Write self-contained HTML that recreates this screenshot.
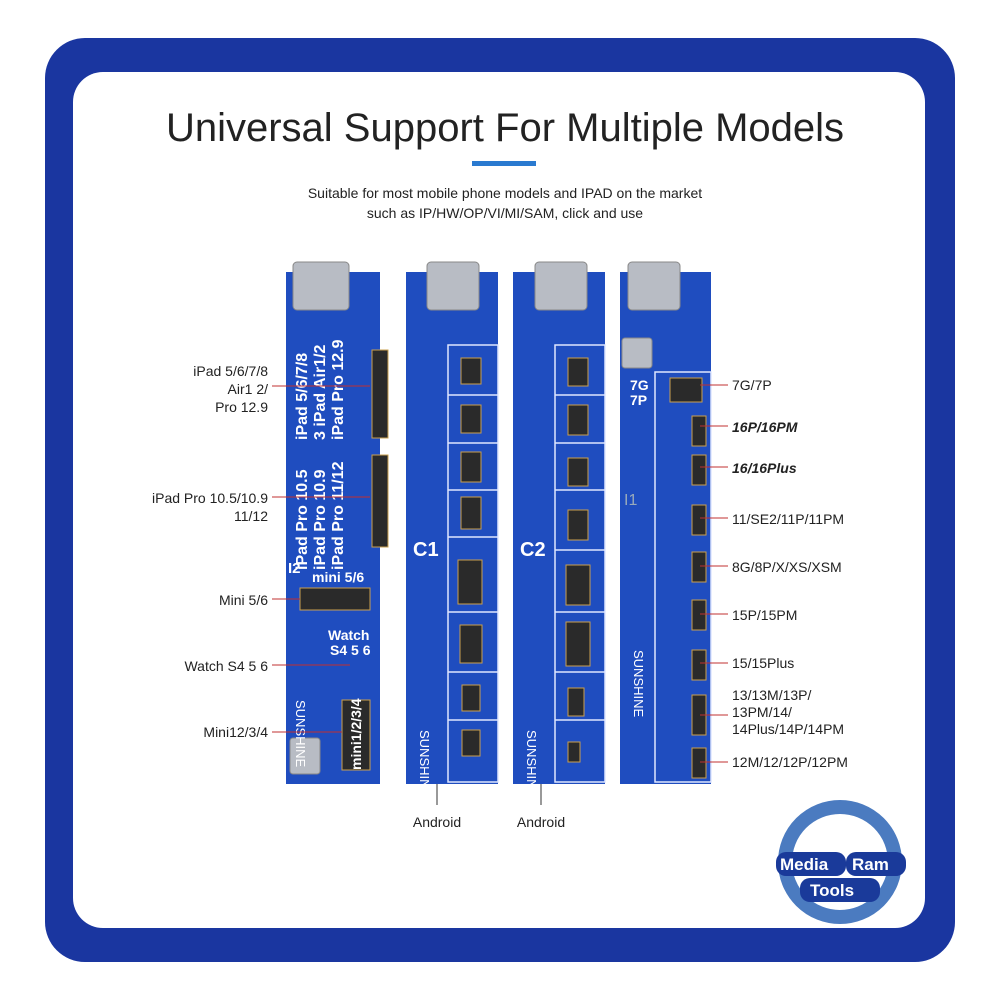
<!DOCTYPE html><html><head><style>body{margin:0;background:#fff}svg{display:block}</style></head><body>
<svg width="1000" height="1000" xmlns="http://www.w3.org/2000/svg" font-family="Liberation Sans, sans-serif">
<rect width="1000" height="1000" fill="#fff"/>
<rect x="45" y="38" width="910" height="924" rx="40" fill="#1a36a0"/>
<rect x="73" y="72" width="852" height="856" rx="30" fill="#fff"/>
<text x="505" y="141" font-size="40" text-anchor="middle" fill="#222">Universal Support For Multiple Models</text>
<rect x="472" y="161" width="64" height="5" fill="#2a7ad0"/>
<text x="505" y="198" font-size="14" text-anchor="middle" fill="#222">Suitable for most mobile phone models and IPAD on the market</text>
<text x="505" y="218" font-size="14" text-anchor="middle" fill="#222">such as IP/HW/OP/VI/MI/SAM, click and use</text>
<g fill="#1f4dbf">
<rect x="286" y="272" width="94" height="512"/>
<rect x="406" y="272" width="92" height="512"/>
<rect x="513" y="272" width="92" height="512"/>
<rect x="620" y="272" width="91" height="512"/>
</g>
<g fill="#b8bcc4" stroke="#888">
<rect x="293" y="262" width="56" height="48" rx="4"/>
<rect x="427" y="262" width="52" height="48" rx="4"/>
<rect x="535" y="262" width="52" height="48" rx="4"/>
<rect x="628" y="262" width="52" height="48" rx="4"/>
<rect x="622" y="338" width="30" height="30" rx="3"/>
<rect x="290" y="738" width="30" height="36" rx="3"/>
</g>
<g fill="none" stroke="#dfe6ff" stroke-width="1.5">
<rect x="448" y="345" width="50" height="437"/>
<line x1="448" y1="395" x2="498" y2="395"/><line x1="448" y1="443" x2="498" y2="443"/><line x1="448" y1="490" x2="498" y2="490"/><line x1="448" y1="537" x2="498" y2="537"/><line x1="448" y1="612" x2="498" y2="612"/><line x1="448" y1="672" x2="498" y2="672"/><line x1="448" y1="720" x2="498" y2="720"/>
<rect x="555" y="345" width="50" height="437"/>
<line x1="555" y1="395" x2="605" y2="395"/><line x1="555" y1="443" x2="605" y2="443"/><line x1="555" y1="490" x2="605" y2="490"/><line x1="555" y1="550" x2="605" y2="550"/><line x1="555" y1="612" x2="605" y2="612"/><line x1="555" y1="672" x2="605" y2="672"/><line x1="555" y1="720" x2="605" y2="720"/>
<rect x="655" y="372" width="56" height="410"/>
</g>
<g fill="#2a2a2a" stroke="#c9a050">
<rect x="461" y="358" width="20" height="26"/><rect x="461" y="405" width="20" height="28"/><rect x="461" y="452" width="20" height="30"/><rect x="461" y="497" width="20" height="32"/><rect x="458" y="560" width="24" height="44"/><rect x="460" y="625" width="22" height="38"/><rect x="462" y="685" width="18" height="26"/><rect x="462" y="730" width="18" height="26"/>
<rect x="568" y="358" width="20" height="28"/><rect x="568" y="405" width="20" height="30"/><rect x="568" y="458" width="20" height="28"/><rect x="568" y="510" width="20" height="30"/><rect x="566" y="565" width="24" height="40"/><rect x="566" y="622" width="24" height="44"/><rect x="568" y="688" width="16" height="28"/><rect x="568" y="742" width="12" height="20"/>
<rect x="372" y="350" width="16" height="88"/><rect x="372" y="455" width="16" height="92"/>
<rect x="300" y="588" width="70" height="22"/><rect x="342" y="700" width="28" height="70"/>
<rect x="670" y="378" width="32" height="24"/><rect x="692" y="416" width="14" height="30"/><rect x="692" y="455" width="14" height="30"/><rect x="692" y="505" width="14" height="30"/><rect x="692" y="552" width="14" height="30"/><rect x="692" y="600" width="14" height="30"/><rect x="692" y="650" width="14" height="30"/><rect x="692" y="695" width="14" height="40"/><rect x="692" y="748" width="14" height="30"/>
</g>
<g fill="#fff" font-weight="bold">
<text transform="translate(307,440) rotate(-90)" font-size="16">iPad 5/6/7/8</text>
<text transform="translate(325,440) rotate(-90)" font-size="16">3 iPad Air1/2</text>
<text transform="translate(343,440) rotate(-90)" font-size="16">iPad Pro 12.9</text>
<text transform="translate(307,570) rotate(-90)" font-size="16">iPad Pro 10.5</text>
<text transform="translate(325,570) rotate(-90)" font-size="16">iPad Pro 10.9</text>
<text transform="translate(343,570) rotate(-90)" font-size="16">iPad Pro 11/12</text>
<text x="288" y="573" font-size="15">I2</text><text x="312" y="582" font-size="14">mini 5/6</text>
<text x="328" y="640" font-size="14">Watch</text><text x="330" y="655" font-size="14">S4 5 6</text>
<text transform="translate(361,770) rotate(-90)" font-size="14">mini1/2/3/4</text>
<text x="413" y="556" font-size="20">C1</text><text x="520" y="556" font-size="20">C2</text>
<text x="630" y="390" font-size="14">7G</text><text x="630" y="405" font-size="14">7P</text>
<text x="624" y="505" font-size="16" font-weight="normal" fill="#9ab">I1</text>
<text transform="translate(296,700) rotate(90)" font-size="13" font-weight="normal">SUNSHINE</text>
<text transform="translate(420,730) rotate(90)" font-size="13" font-weight="normal">SUNSHINE</text>
<text transform="translate(527,730) rotate(90)" font-size="13" font-weight="normal">SUNSHINE</text>
<text transform="translate(634,650) rotate(90)" font-size="13" font-weight="normal">SUNSHINE</text>
</g>
<g stroke="#c03030" stroke-width="1">
<line x1="272" y1="386" x2="370" y2="386"/><line x1="272" y1="497" x2="370" y2="497"/><line x1="272" y1="599" x2="300" y2="599"/><line x1="272" y1="665" x2="350" y2="665"/><line x1="272" y1="732" x2="342" y2="732"/>
<line x1="700" y1="385" x2="728" y2="385"/><line x1="700" y1="426" x2="728" y2="426"/><line x1="700" y1="467" x2="728" y2="467"/><line x1="700" y1="518" x2="728" y2="518"/><line x1="700" y1="566" x2="728" y2="566"/><line x1="700" y1="614" x2="728" y2="614"/><line x1="700" y1="663" x2="728" y2="663"/><line x1="700" y1="715" x2="728" y2="715"/><line x1="700" y1="762" x2="728" y2="762"/>
</g>
<g stroke="#333"><line x1="437" y1="784" x2="437" y2="805"/><line x1="541" y1="784" x2="541" y2="805"/></g>
<g font-size="14" fill="#222" text-anchor="end">
<text x="268" y="376">iPad 5/6/7/8</text><text x="268" y="394">Air1 2/</text><text x="268" y="412">Pro 12.9</text>
<text x="268" y="503">iPad Pro 10.5/10.9</text><text x="268" y="521">11/12</text>
<text x="268" y="605">Mini 5/6</text><text x="268" y="671">Watch S4 5 6</text><text x="268" y="737">Mini12/3/4</text>
</g>
<g font-size="14" fill="#222">
<text x="732" y="390">7G/7P</text>
<text x="732" y="432" font-weight="bold" font-style="italic">16P/16PM</text>
<text x="732" y="473" font-weight="bold" font-style="italic">16/16Plus</text>
<text x="732" y="524">11/SE2/11P/11PM</text><text x="732" y="572">8G/8P/X/XS/XSM</text>
<text x="732" y="620">15P/15PM</text><text x="732" y="668">15/15Plus</text>
<text x="732" y="700">13/13M/13P/</text><text x="732" y="717">13PM/14/</text><text x="732" y="734">14Plus/14P/14PM</text>
<text x="732" y="767">12M/12/12P/12PM</text>
<text x="437" y="827" text-anchor="middle">Android</text><text x="541" y="827" text-anchor="middle">Android</text>
</g>
<circle cx="840" cy="862" r="55" fill="none" stroke="#1e5ab0" stroke-width="14" opacity="0.8"/>
<rect x="776" y="852" width="70" height="24" rx="10" fill="#1a3a9a"/><rect x="846" y="852" width="60" height="24" rx="10" fill="#1a3a9a"/>
<rect x="800" y="878" width="80" height="24" rx="10" fill="#1a3a9a"/>
<g font-size="17" font-weight="bold" fill="#fff"><text x="780" y="870">Media</text><text x="852" y="870">Ram</text><text x="810" y="896">Tools</text></g>
</svg></body></html>
